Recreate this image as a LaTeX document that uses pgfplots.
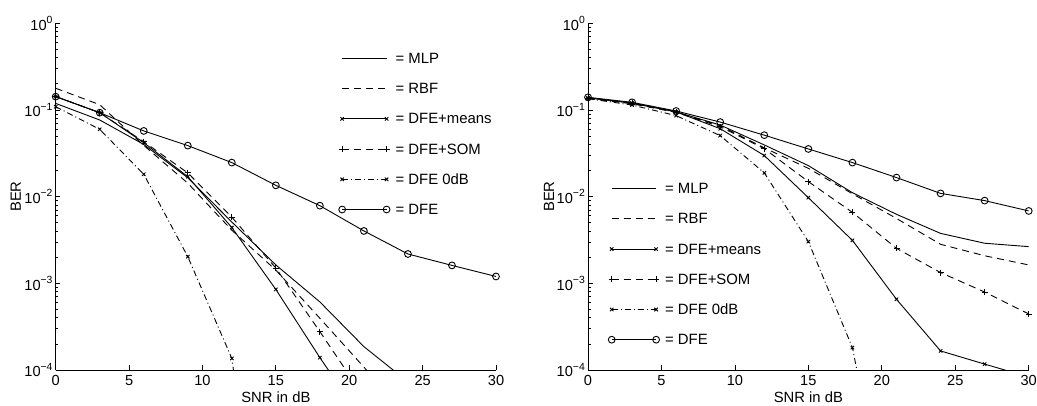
\documentclass[border=0pt]{standalone}
\usepackage{fontspec}
\setmainfont{Liberation Sans}
\usepackage{pgfplots}
\pgfplotsset{compat=1.18}
\newcommand{\lf}{\fontsize{7.4}{8.8}\selectfont}
\newcommand{\gf}{\fontsize{7.45}{8.8}\selectfont}
\newcommand{\tf}{\fontsize{7.3}{8.6}\selectfont}
\newcommand{\sups}[1]{\raisebox{3.3pt}{\fontsize{5.2}{6}\selectfont #1}}
\tikzset{
  mlp/.style={solid},
  rbf/.style={dash pattern=on 3.5pt off 2.5pt},
  means/.style={solid, mark=x, mark size=1.2pt, mark options={solid}},
  som/.style={dash pattern=on 3.5pt off 2.5pt, mark=+, mark size=1.5pt, mark options={solid}},
  odb/.style={dash pattern=on 3pt off 1.5pt on 0.5pt off 1.5pt, mark=x, mark size=1.2pt, mark options={solid}},
  dfe/.style={solid, mark=o, mark size=1.7pt, mark options={solid}},
}
\begin{document}
\lf
\begin{tikzpicture}[font=\lf]
\begin{axis}[at={(27.85pt,18pt)}, anchor=south west, width=220.15pt,
    scale only axis, height=173.35pt,
    ymode=log, xmin=0, xmax=30, ymin=1e-4, ymax=1,
    axis lines=left, axis line style={-, line width=0.5pt, black},
    tick align=inside, major tick length=2.3pt, minor tick length=1.3pt,
    tick style={black, line width=0.4pt},
    xtick={0,5,...,30},
    ytick={1e-4,1e-3,1e-2,1e-1,1},
    minor ytick={2e-4,3e-4,4e-4,5e-4,6e-4,7e-4,8e-4,9e-4,
                 2e-3,3e-3,4e-3,5e-3,6e-3,7e-3,8e-3,9e-3,
                 2e-2,3e-2,4e-2,5e-2,6e-2,7e-2,8e-2,9e-2,
                 2e-1,3e-1,4e-1,5e-1,6e-1,7e-1,8e-1,9e-1},
    yticklabels={10\sups{−4},10\sups{−3},10\sups{−2},10\sups{−1},10\sups{0}},
    /pgf/number format/assume math mode=true,
    yticklabel style={inner sep=0pt, xshift=-1.4pt, font=\tf},
    xticklabel style={inner sep=2.4pt, font=\tf},
    xlabel={SNR in dB}, ylabel={BER},
    xlabel style={at={(axis description cs:0.5,-0.078)}, anchor=center, inner sep=0pt, font=\lf},
    ylabel style={at={(axis description cs:-0.0906,0.5)}, anchor=center, inner sep=0pt, font=\lf},
    legend cell align=left,
    legend image code/.code={\draw[#1] plot coordinates {(0pt,0pt) (22.2pt,0pt)};},
    every axis plot/.append style={line width=0.45pt, black},
    legend style={draw=none, fill=none, inner sep=0pt, at={(0.642,0.914)}, anchor=north west,
    row sep=10.1pt, font=\gf, nodes={inner sep=0pt, text height=5pt, text depth=0pt},
    /tikz/every odd column/.append style={column sep=2.8pt}}]
\addplot[mlp] coordinates {(0,0.119) (3,0.0766) (6,0.040) (9,0.0165) (12,0.0051) (15,0.00163) (18,6.1e-4) (21,1.86e-4) (24,7.3e-5)};
\addlegendentry{= MLP}
\addplot[rbf] coordinates {(0,0.178) (3,0.115) (6,0.039) (9,0.0143) (12,0.0041) (15,0.00142) (18,3.95e-4) (21,1.08e-4) (24,2.8e-5)};
\addlegendentry{= RBF}
\addplot[means] coordinates {(0,0.143) (3,0.093) (6,0.042) (9,0.017) (12,0.0044) (15,8.5e-4) (18,1.39e-4) (21,2.5e-5)};
\addlegendentry{= DFE+means}
\addplot[som] coordinates {(0,0.143) (3,0.093) (6,0.043) (9,0.0188) (12,0.0058) (15,0.0015) (18,2.77e-4) (21,4.9e-5)};
\addlegendentry{= DFE+SOM}
\addplot[odb] coordinates {(0,0.109) (3,0.0598) (6,0.0181) (9,0.00203) (12,1.36e-4) (15,3e-8)};
\addlegendentry{= DFE 0dB}
\addplot[dfe] coordinates {(0,0.1425) (3,0.093) (6,0.0573) (9,0.0388) (12,0.0247) (15,0.0135) (18,0.00787) (21,0.00402) (24,0.00218) (27,0.00161) (30,0.0012)};
\addlegendentry{= DFE}
\end{axis}
\begin{axis}[at={(294pt,18pt)}, anchor=south west, width=220.35pt,
    scale only axis, height=173.35pt,
    ymode=log, xmin=0, xmax=30, ymin=1e-4, ymax=1,
    axis lines=left, axis line style={-, line width=0.5pt, black},
    tick align=inside, major tick length=2.3pt, minor tick length=1.3pt,
    tick style={black, line width=0.4pt},
    xtick={0,5,...,30},
    ytick={1e-4,1e-3,1e-2,1e-1,1},
    minor ytick={2e-4,3e-4,4e-4,5e-4,6e-4,7e-4,8e-4,9e-4,
                 2e-3,3e-3,4e-3,5e-3,6e-3,7e-3,8e-3,9e-3,
                 2e-2,3e-2,4e-2,5e-2,6e-2,7e-2,8e-2,9e-2,
                 2e-1,3e-1,4e-1,5e-1,6e-1,7e-1,8e-1,9e-1},
    yticklabels={10\sups{−4},10\sups{−3},10\sups{−2},10\sups{−1},10\sups{0}},
    /pgf/number format/assume math mode=true,
    yticklabel style={inner sep=0pt, xshift=-1.4pt, font=\tf},
    xticklabel style={inner sep=2.4pt, font=\tf},
    xlabel={SNR in dB}, ylabel={BER},
    xlabel style={at={(axis description cs:0.5,-0.078)}, anchor=center, inner sep=0pt, font=\lf},
    ylabel style={at={(axis description cs:-0.0885,0.5)}, anchor=center, inner sep=0pt, font=\lf},
    legend cell align=left,
    legend image code/.code={\draw[#1] plot coordinates {(0pt,0pt) (22.2pt,0pt)};},
    every axis plot/.append style={line width=0.45pt, black},
    legend style={draw=none, fill=none, inner sep=0pt, at={(0.0452,0.5385)}, anchor=north west,
    row sep=10.1pt, font=\gf, nodes={inner sep=0pt, text height=5pt, text depth=0pt},
    /tikz/every odd column/.append style={column sep=2.8pt}}]
\addplot[mlp] coordinates {(0,0.138) (3,0.12) (6,0.095) (9,0.067) (12,0.0395) (15,0.0228) (18,0.0111) (21,0.00625) (24,0.00377) (27,0.0029) (30,0.00265)};
\addlegendentry{= MLP}
\addplot[rbf] coordinates {(0,0.136) (3,0.118) (6,0.094) (9,0.066) (12,0.0365) (15,0.0212) (18,0.0108) (21,0.0056) (24,0.00282) (27,0.00208) (30,0.00163)};
\addlegendentry{= RBF}
\addplot[means] coordinates {(0,0.138) (3,0.12) (6,0.095) (9,0.0608) (12,0.0298) (15,0.00973) (18,0.00313) (21,6.54e-4) (24,1.66e-4) (27,1.17e-4) (30,8.3e-5)};
\addlegendentry{= DFE+means}
\addplot[som] coordinates {(0,0.137) (3,0.119) (6,0.094) (9,0.064) (12,0.0358) (15,0.0149) (18,0.00659) (21,0.00253) (24,0.00133) (27,7.94e-4) (30,4.43e-4)};
\addlegendentry{= DFE+SOM}
\addplot[odb] coordinates {(0,0.135) (3,0.114) (6,0.086) (9,0.0506) (12,0.0188) (15,0.00303) (18,1.81e-4) (21,5e-7)};
\addlegendentry{= DFE 0dB}
\addplot[dfe] coordinates {(0,0.140) (3,0.1225) (6,0.0973) (9,0.0725) (12,0.0512) (15,0.0355) (18,0.0247) (21,0.0166) (24,0.0109) (27,0.0090) (30,0.00684)};
\addlegendentry{= DFE}
\end{axis}
\pgfresetboundingbox
\useasboundingbox (0,0) rectangle (518.5pt,203pt);
\end{tikzpicture}
\end{document}
